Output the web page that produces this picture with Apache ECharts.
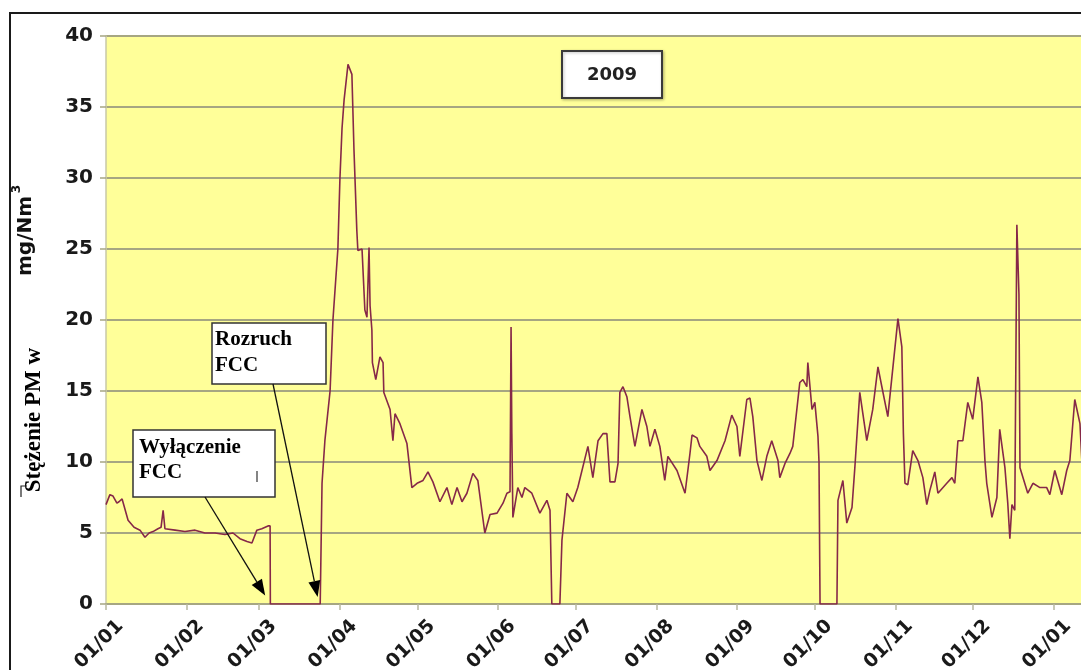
<!DOCTYPE html>
<html>
<head>
<meta charset="utf-8">
<script src="https://cdn.jsdelivr.net/npm/echarts@6/dist/echarts.min.js"></script>
<style>
  html, body { margin: 0; padding: 0; background: #ffffff; }
  #chart { width: 1081px; height: 670px; }
</style>
</head>
<body>
<div id="chart"></div>
<script>
// Daily PM concentration, 2009 (day 0 = 1 January 2009)
const days = [
  0, 1.5, 2.7, 4.2, 5, 6.2, 8.5, 10.8, 13.1, 15, 16.6, 18.1, 20, 21.2, 22, 22.7,
  26.6, 30.4, 34.3, 38.1, 42, 45.8, 48.9, 51.6, 54.3, 56.2, 58.1, 60, 62.4, 63.2, 63.3,
  82.5, 83.2, 84.3, 86.3, 87.4, 89.3, 90.1, 90.9, 91.7, 93.2, 94.7, 95.5, 96.6, 97, 98.6,
  99.7, 100.5, 101.3, 101.7, 102.4, 102.6, 103.9, 105.5, 106.7, 107, 109.4, 110.5, 111.3,
  113.2, 115.9, 117.8, 119.8, 122.1, 124, 125.9, 128.6, 131.3, 133.2, 135.2, 137.1, 139,
  141.3, 143.2, 145.9, 147.9, 150.6, 152.9, 154.4, 155.6, 156, 156.3, 156.7, 158.6, 160.2,
  161.3, 164, 167.1, 169.8, 171, 171.7, 174.8, 175.6, 177.5, 179.8, 181.7, 185.6, 187.5,
  189.5, 191.4, 192.9, 194.1, 196, 197.2, 197.9, 199.1, 200.6, 201.8, 203.7, 206.4, 208.3,
  209.5, 211.4, 213.3, 215.2, 216.4, 219.9, 223, 224.9, 225.7, 227.6, 228.7, 231.4, 232.6,
  235.3, 238.4, 241, 243, 244.1, 246.8, 248, 249.1, 250.7, 252.6, 254.5, 256.4, 258.8,
  259.5, 261.5, 263.4, 264.5, 267.2, 268.4, 269.9, 270.3, 271.9, 273, 274.2, 274.6, 275,
  281.5, 281.9, 283.8, 285.3, 287.3, 288.4, 290.3, 293, 295.3, 297.3, 298.8, 301.1, 305,
  306.5, 307.1, 307.7, 308.8, 310.7, 312.7, 314.6, 316.1, 317.3, 319.2, 320.4, 323.8,
  325.8, 326.9, 328.1, 330, 331.9, 333.8, 335.8, 337.3, 338.5, 339.2, 341.2, 343.1, 344.2,
  346.2, 347.3, 348.1, 348.9, 350, 350.8, 351.6, 352, 355, 357, 359.7, 362.3, 363.5, 365.4,
  368.1, 370, 371.2, 373.1, 375.1, 375.8
];
const pm = [
  7.0, 7.7, 7.6, 7.1, 7.2, 7.4, 5.9, 5.4, 5.2, 4.7, 5.0, 5.1, 5.3, 5.4, 6.6, 5.3,
  5.2, 5.1, 5.2, 5.0, 5.0, 4.9, 5.0, 4.6, 4.4, 4.3, 5.2, 5.3, 5.5, 5.5, 0,
  0, 8.5, 11.5, 15, 20, 25, 30, 33.5, 35.5, 38.0, 37.3, 32, 26.3, 24.9, 25.0,
  20.7, 20.2, 25.1, 21, 19.3, 17, 15.8, 17.4, 17, 14.9, 13.7, 11.5, 13.4,
  12.7, 11.3, 8.2, 8.5, 8.7, 9.3, 8.6, 7.2, 8.2, 7.0, 8.2, 7.2, 7.8,
  9.2, 8.7, 5.0, 6.3, 6.4, 7.1, 7.8, 7.9, 19.5, 12, 6.1, 8.2, 7.5,
  8.2, 7.8, 6.4, 7.3, 6.6, 0, 0, 4.5, 7.8, 7.2, 8.2, 11.1, 8.9,
  11.5, 12.0, 12.0, 8.6, 8.6, 9.9, 14.9, 15.3, 14.6, 13.2, 11.1, 13.7, 12.5,
  11.1, 12.3, 11.1, 8.7, 10.4, 9.4, 7.8, 10.6, 11.9, 11.7, 11.1, 10.4, 9.4,
  10.1, 11.5, 13.3, 12.5, 10.4, 14.4, 14.5, 13.2, 10.1, 8.7, 10.4, 11.5, 10.1,
  8.9, 9.9, 10.6, 11.1, 15.6, 15.8, 15.3, 17.0, 13.7, 14.2, 11.8, 10, 0,
  0, 7.3, 8.7, 5.7, 6.8, 9.6, 14.9, 11.5, 13.7, 16.7, 15.3, 13.2, 20.1,
  18.1, 12, 8.5, 8.4, 10.8, 10.1, 8.9, 7.0, 8.0, 9.3, 7.8, 8.5,
  8.9, 8.5, 11.5, 11.5, 14.2, 13.0, 16.0, 14.2, 10.1, 8.5, 6.1, 7.5, 12.3,
  9.6, 7.1, 4.6, 7.0, 6.6, 26.7, 21.8, 9.6, 7.8, 8.5, 8.2, 8.2, 7.7, 9.4,
  7.7, 9.4, 10.1, 14.4, 12.7, 10.2
];

// Month starts on the time axis and their labels
const monthTicks = [0, 31, 59, 90, 120, 151, 181, 212, 243, 273, 304, 334, 365];
const monthLabels = ['01/01', '01/02', '01/03', '01/04', '01/05', '01/06', '01/07',
                     '01/08', '01/09', '01/10', '01/11', '01/12', '01/01'];

const yTicks = [0, 5, 10, 15, 20, 25, 30, 35, 40];

// Annotated events: shutdown and start-up of the FCC unit
const eventNames = ['Wyłączenie\nFCC', 'Rozruch\nFCC'];
const eventDays = [61.3, 81.5];

const lineData = days.map((d, i) => [d, pm[i]]);

const chart = echarts.init(document.getElementById('chart'), null, { renderer: 'canvas' });

const gridColor = '#A6A682';
const sansBold = { fontFamily: '"DejaVu Sans", Verdana, sans-serif', fontWeight: 'bold' };

chart.setOption({
  animation: false,
  backgroundColor: '#ffffff',
  grid: {
    left: 106, top: 36, bottom: 66, right: 0,
    outerBoundsMode: 'none',
    containLabel: false,
    show: true, backgroundColor: '#FFFF99', borderWidth: 0
  },
  xAxis: {
    type: 'value',
    min: 0,
    max: 375.5,
    axisLine: { show: true, lineStyle: { color: gridColor, width: 1.5 } },
    axisTick: {
      show: true, length: 6, customValues: monthTicks,
      lineStyle: { color: '#B8B8A0', width: 1.5 }
    },
    axisLabel: {
      customValues: monthTicks,
      rotate: 45,
      align: 'center',
      verticalAlign: 'bottom',
      margin: 47,
      fontSize: 19,
      color: '#1a1a1a',
      ...sansBold,
      formatter: v => monthLabels[monthTicks.indexOf(v)]
    },
    splitLine: { show: false }
  },
  yAxis: {
    type: 'value',
    min: yTicks[0],
    max: yTicks[yTicks.length - 1],
    interval: 5,
    axisLine: { show: true, lineStyle: { color: '#C9C9A6', width: 1.5 } },
    axisTick: { show: true, length: 6, lineStyle: { color: gridColor, width: 1.5 } },
    axisLabel: { margin: 13, fontSize: 20, color: '#1a1a1a', ...sansBold },
    splitLine: { show: true, lineStyle: { color: gridColor, width: 2 } }
  },
  series: [{
    type: 'line',
    data: lineData,
    showSymbol: false,
    symbol: 'none',
    lineStyle: { color: '#862848', width: 1.6 },
    z: 3
  }]
});

// Arrow from a box edge to a point on the zero line
function arrow(from, tip) {
  const dx = tip[0] - from[0], dy = tip[1] - from[1];
  const len = Math.sqrt(dx * dx + dy * dy);
  const ux = dx / len, uy = dy / len;
  const headLen = 16, headW = 6;
  const bx = tip[0] - ux * headLen, by = tip[1] - uy * headLen;
  return [
    { type: 'line', shape: { x1: from[0], y1: from[1], x2: bx, y2: by },
      style: { stroke: '#111', lineWidth: 1.3 }, z: 20 },
    { type: 'polygon', shape: { points: [
        [tip[0], tip[1]],
        [bx + uy * headW, by - ux * headW],
        [bx - uy * headW, by + ux * headW]
      ] }, style: { fill: '#000' }, z: 20 }
  ];
}

const tipOff = chart.convertToPixel({ gridIndex: 0 }, [eventDays[0], 0.6]);
const tipOn = chart.convertToPixel({ gridIndex: 0 }, [eventDays[1], 0.5]);

const serifBold = 'bold 21px "Liberation Serif", "Times New Roman", serif';

chart.setOption({
  graphic: [
    // outer frame
    { type: 'rect', shape: { x: 10, y: 13, width: 1090, height: 680 },
      style: { fill: null, stroke: '#1a1a1a', lineWidth: 2 }, z: 30, silent: true },

    // year box
    { type: 'rect', shape: { x: 562, y: 51, width: 100, height: 47 },
      style: { fill: '#ffffff', stroke: '#3a3a3a', lineWidth: 2,
               shadowColor: 'rgba(0,0,0,0.25)', shadowBlur: 3, shadowOffsetX: 1, shadowOffsetY: 1 }, z: 20 },
    { type: 'text', x: 612, y: 75,
      style: { text: '2009', fill: '#222', font: 'bold 18px "DejaVu Sans", Verdana, sans-serif',
               textAlign: 'center', textVerticalAlign: 'middle' }, z: 21 },

    // start-up annotation
    { type: 'rect', shape: { x: 212, y: 323, width: 114, height: 61 },
      style: { fill: '#ffffff', stroke: '#333', lineWidth: 1.5 }, z: 20 },
    { type: 'text', x: 215, y: 327,
      style: { text: eventNames[1], fill: '#000', font: serifBold, lineHeight: 26,
               textAlign: 'left', textVerticalAlign: 'top' }, z: 21 },

    // shutdown annotation
    { type: 'rect', shape: { x: 133, y: 430, width: 142, height: 67 },
      style: { fill: '#ffffff', stroke: '#333', lineWidth: 1.5 }, z: 20 },
    { type: 'text', x: 139, y: 435,
      style: { text: eventNames[0], fill: '#000', font: serifBold, lineHeight: 25,
               textAlign: 'left', textVerticalAlign: 'top' }, z: 21 },
    { type: 'line', shape: { x1: 257, y1: 471, x2: 257, y2: 482 },
      style: { stroke: '#333', lineWidth: 1.2 }, z: 21 },

    ...arrow([205, 497], tipOff),
    ...arrow([273, 384], tipOn),

    // y-axis title
    { type: 'text', x: 34, y: 420, rotation: Math.PI / 2,
      style: { text: 'Stężenie PM w', fill: '#000',
               font: 'bold 23px "Liberation Serif", "Times New Roman", serif',
               textAlign: 'center', textVerticalAlign: 'middle' }, z: 21 },
    { type: 'text', x: 26, y: 236, rotation: Math.PI / 2,
      style: { text: 'mg/Nm', fill: '#111',
               font: 'bold 20px "DejaVu Sans", Verdana, sans-serif',
               textAlign: 'center', textVerticalAlign: 'middle' }, z: 21 },
    { type: 'text', x: 17, y: 189, rotation: Math.PI / 2,
      style: { text: '3', fill: '#111',
               font: 'bold 12px "DejaVu Sans", Verdana, sans-serif',
               textAlign: 'center', textVerticalAlign: 'middle' }, z: 21 },
    { type: 'polyline', shape: { points: [[27, 486], [21, 486], [21, 497]] },
      style: { stroke: '#222', lineWidth: 1.2, fill: null }, z: 21 }
  ]
});
</script>
</body>
</html>
